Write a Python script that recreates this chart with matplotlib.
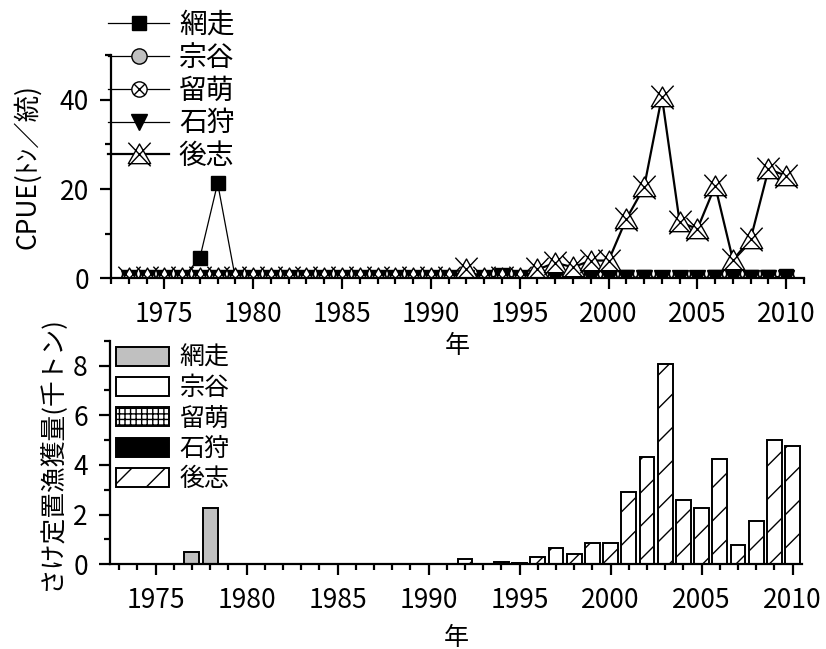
import numpy as np
import matplotlib
matplotlib.use("Agg")
import matplotlib.pyplot as plt
from matplotlib.path import Path
from matplotlib.ticker import MultipleLocator

plt.rcParams['font.family'] = ['Noto Sans CJK JP', 'DejaVu Sans']
plt.rcParams['hatch.linewidth'] = 1.0

years = list(range(1973, 2011))
regions = ['網走', '宗谷', '留萌', '石狩', '後志']

# CPUE (t per net), 1973-2010
cpue_abashiri = [0, 0, 0, 0, 4.6, 21.3, 0, 0, 0, 0, 0, 0, 0, 0, 0, 0, 0, 0, 0, 0,
                 0, 0.8, 0, 0, 0, 0, 0, 0, 0.3, 0.3, 0.2, 0.2, 0.2, 0.3, 0.2, 0.3, 0.3, 0.5]
cpue_soya = [0] * 38
cpue_rumoi = [0] * 38
cpue_ishikari = [0] * 38
cpue_shiribeshi = [0, 0, 0, 0, 0, 0, 0, 0, 0, 0, 0, 0, 0, 0, 0, 0, 0, 0, 0, 2.0,
                   0, 0, 0, 2.0, 3.5, 2.5, 4.0, 4.0, 13.3, 20.4, 40.7, 12.6, 11.1, 20.7, 4.1, 8.9, 24.4, 23.0]

# set-net salmon catch (thousand t), 1973-2010
catch_abashiri = [0, 0, 0, 0, 0.5, 2.27, 0, 0, 0, 0, 0, 0, 0, 0, 0, 0, 0, 0, 0, 0,
                  0, 0, 0, 0, 0, 0, 0, 0, 0, 0, 0, 0, 0, 0, 0, 0, 0, 0]
catch_soya = [0] * 38
catch_rumoi = [0] * 38
catch_ishikari = [0] * 38
catch_shiribeshi = [0, 0, 0, 0, 0, 0, 0, 0, 0, 0, 0, 0, 0, 0, 0.03, 0.03, 0.03, 0, 0, 0.2,
                    0, 0.1, 0.05, 0.28, 0.64, 0.4, 0.84, 0.86, 2.9, 4.33, 8.06, 2.57, 2.27, 4.23, 0.77, 1.76, 5.0, 4.76]

# triangle with an X through it, and a circle with an X inside
tri = Path([(0, 0.8), (-0.85, -0.7), (0.85, -0.7), (0, 0.8)],
           [Path.MOVETO, Path.LINETO, Path.LINETO, Path.CLOSEPOLY])
xx = Path([(-0.85, 0.9), (0.85, -0.9), (-0.85, -0.9), (0.85, 0.9)],
          [Path.MOVETO, Path.LINETO, Path.MOVETO, Path.LINETO])
tri_x = Path.make_compound_path(tri, xx)
d = 0.7071
cx = Path([(-d, -d), (d, d), (-d, d), (d, -d)],
          [Path.MOVETO, Path.LINETO, Path.MOVETO, Path.LINETO])
circ_x = Path.make_compound_path(Path.unit_circle(), cx)

fig = plt.figure(figsize=(8.26, 6.49), dpi=100)
ax1 = fig.add_axes([0.1344, 0.5710, 0.8390, 0.3443])
ax2 = fig.add_axes([0.1332, 0.1305, 0.8374, 0.3445])
ax2.patch.set_visible(False)

for ax in (ax1, ax2):
    for s in ('top', 'right'):
        ax.spines[s].set_visible(False)
    for s in ('left', 'bottom'):
        ax.spines[s].set_linewidth(1.6)
    ax.tick_params(which='major', length=8, width=1.6, labelsize=19, pad=8)
    ax.tick_params(which='minor', length=4, width=1.6)
    ax.xaxis.set_major_locator(MultipleLocator(5))
    ax.xaxis.set_minor_locator(MultipleLocator(1))

# upper panel: CPUE lines
h1, = ax1.plot(years, cpue_abashiri, color='black', lw=0.9, marker='s', ms=10,
               mfc='black', mec='black', label='網走')
h2, = ax1.plot(years, cpue_soya, color='black', lw=0.9, marker='o', ms=11,
               mfc='#c0c0c0', mec='black', label='宗谷')
h3, = ax1.plot(years, cpue_rumoi, color='black', lw=0.9, marker=circ_x, ms=11,
               mfc='white', mec='black', mew=1.0, label='留萌')
h4, = ax1.plot(years, cpue_ishikari, color='black', lw=0.9, marker='v', ms=11,
               mfc='black', mec='black', label='石狩')
h5, = ax1.plot(years, cpue_shiribeshi, color='black', lw=1.6, marker=tri_x, ms=17,
               mfc='white', mec='black', mew=1.0, label='後志')

ax1.set_xlim(1972, 2011)
ax1.set_ylim(0, 50)
ax1.yaxis.set_major_locator(MultipleLocator(20))
ax1.yaxis.set_minor_locator(MultipleLocator(10))
ax1.set_ylabel('CPUE(ﾄﾝ／統)', fontsize=19, labelpad=13)
ax1.set_xlabel('年', fontsize=18, labelpad=4)

fig.legend(handles=[h1, h2, h3, h4, h5], loc='upper left',
           bbox_to_anchor=(108 / 826, 1 - 10 / 649), frameon=False, fontsize=20,
           borderpad=0, borderaxespad=0, handlelength=2.2, handletextpad=0.35,
           labelspacing=0.1)

# lower panel: catch bars
w = 0.82
ax2.bar(years, catch_abashiri, width=w, color='#c0c0c0', edgecolor='black', lw=1.4, label='網走')
ax2.bar(years, catch_soya, width=w, color='white', edgecolor='black', lw=1.4, label='宗谷')
ax2.bar(years, catch_rumoi, width=w, color='white', edgecolor='black', lw=1.4,
        hatch='+++', label='留萌')
ax2.bar(years, catch_ishikari, width=w, color='black', edgecolor='black', lw=1.4, label='石狩')
ax2.bar(years, catch_shiribeshi, width=w, color='white', edgecolor='black', lw=1.4,
        hatch='/', label='後志')

ax2.set_xlim(1972.5, 2010.5)
ax2.set_ylim(0, 9)
ax2.yaxis.set_major_locator(MultipleLocator(2))
ax2.yaxis.set_minor_locator(MultipleLocator(1))
ax2.set_ylabel('さけ定置漁獲量(千トン)', fontsize=18.5, labelpad=6)
ax2.set_xlabel('年', fontsize=18, labelpad=8)

ax2.legend(loc='upper left', bbox_to_anchor=(116 / 826, 1 - 345 / 649),
           bbox_transform=fig.transFigure, frameon=False, fontsize=18,
           borderpad=0, borderaxespad=0, handlelength=2.1, handleheight=0.8,
           handletextpad=0.45, labelspacing=0.17)

fig.savefig('out.png', dpi=100)
